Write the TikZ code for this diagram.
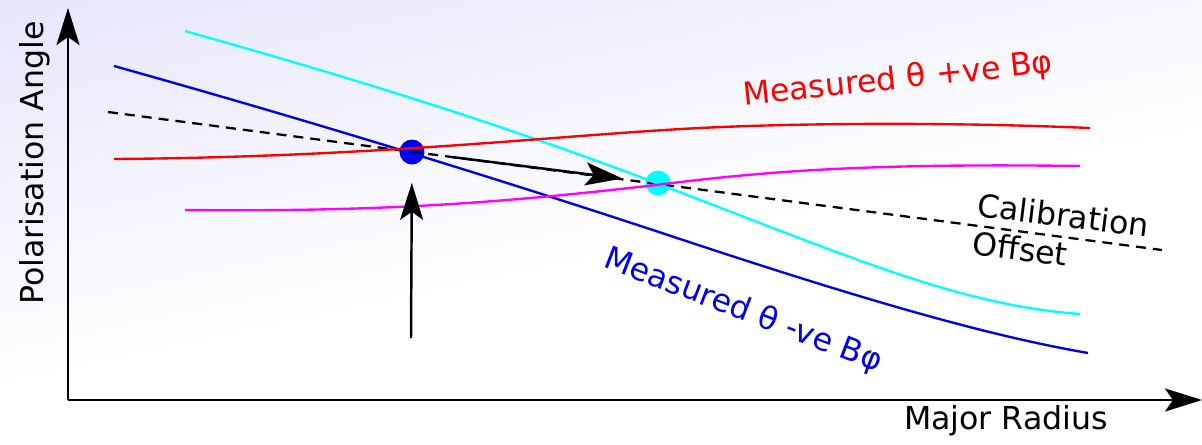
\documentclass[tikz,border=0pt]{standalone}
\usepackage{fontspec}
\setmainfont{DejaVu Sans}
\usepackage{tikz}
\usetikzlibrary{arrows.meta,positioning,calc}

\definecolor{bgtop}{RGB}{230,230,251}
\definecolor{pcyan}{RGB}{0,255,255}
\definecolor{pmagenta}{RGB}{255,0,255}
\definecolor{pblue}{RGB}{0,0,240}
\definecolor{pred}{RGB}{255,0,0}

\begin{document}
\begin{tikzpicture}[
    x=0.02cm, y=-0.02cm,
    axis/.style={line width=1.6pt, -{Stealth[length=0.74cm, width=0.46cm, inset=0.16cm]}},
    arr/.style={line width=1.4pt, -{Stealth[length=0.74cm, width=0.46cm, inset=0.16cm]}},
    curve/.style={line width=1.35pt},
    dot/.style={circle, inner sep=0pt, minimum size=0.5cm},
    lbl/.style={font=\fontsize{18}{22}\selectfont},
    offline/.style={line width=1.3pt, dash pattern=on 0.2cm off 0.14cm}
]

% Background
\useasboundingbox (0,0) rectangle (1202,444);
\begin{scope}
  \clip (0,0) rectangle (1202,444);
  \fill[white] (0,0) rectangle (1202,444);
  \begin{scope}[transform canvas={rotate=12}]
    \shade[top color=bgtop, bottom color=white] (-150,0) rectangle (1400,380);
  \end{scope}
\end{scope}

% Axes
\coordinate (origin) at (68,400);
\coordinate (ytop) at (68,8);
\coordinate (xend) at (1202,400);
\draw[axis] (origin) -- (ytop);
\draw[axis] (origin) -- (xend);
\node[lbl, rotate=90] (ylabel) at (35,163) {Polarisation Angle};
\node[lbl] (xlabel) at (1006,421) {Major Radius};

% Points
\node[dot, fill=pblue] (bdot) at (412,152) {};
\node[dot, fill=pcyan] (cdot) at (658,183) {};

% Calibration offset line
\coordinate (dsA) at (108,112);
\coordinate (dsB) at (1162,250);
\draw[offline] (dsA) -- (dsB);

% Measured curves
\draw[curve, pcyan] (185,31) .. controls (342,75) and (499,123) .. (656,183)
    .. controls (860,261) and (960,305) .. (1080,314);
\draw[curve, pblue] (114,66) .. controls (300,118) and (490,176) .. (677,238)
    .. controls (870,302) and (990,336) .. (1088,353);
\draw[curve, pred] (114,159) .. controls (380,157) and (560,135) .. (700,128)
    .. controls (800,123) and (950,122) .. (1090,128);
\draw[curve, pmagenta] (185,210) .. controls (380,212) and (500,203) .. (656,185)
    .. controls (760,172) and (860,163) .. (1080,166);

% Arrows
\coordinate (ubase) at (411,338);
\draw[arr, shorten >=0.36cm] (ubase) -- (bdot);
\draw[arr, shorten <=0.56cm, shorten >=0.46cm] (bdot) -- (cdot);

% Labels
\node[lbl, pred, rotate=6] (poslabel) at (898,80) {Measured θ +ve Bφ};
\node[lbl, pblue, rotate=-21] (neglabel) at (743,311) {Measured θ -ve Bφ};
\node[lbl, rotate=-7, align=left, inner sep=0pt] (offlabel) at (1061,234) {Calibration\\Offset};

\end{tikzpicture}
\end{document}
